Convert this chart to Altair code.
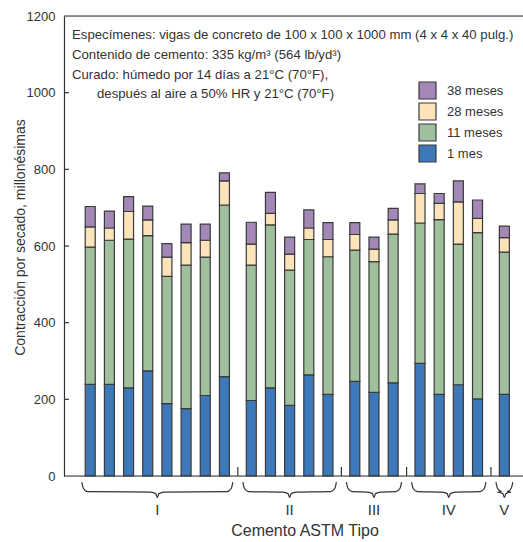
import altair as alt
import pandas as pd

# ---- data ----
groups = ["I", "II", "III", "IV", "V"]
bars_per_group = [8, 5, 3, 4, 1]
ages = ["38 meses", "28 meses", "11 meses", "1 mes"]
colors = ["#a388b7", "#fde3b9", "#a0c09d", "#3d78b8"]

m1 = [239, 239, 230, 274, 189, 176, 210, 259, 197, 230, 184, 264, 213, 247, 218, 243, 294, 213, 238, 201, 213]
m11 = [597, 615, 618, 627, 521, 550, 571, 707, 550, 655, 537, 617, 572, 589, 559, 631, 660, 669, 605, 635, 584]
m28 = [650, 647, 690, 668, 571, 609, 615, 770, 605, 685, 579, 647, 617, 630, 592, 668, 737, 711, 715, 672, 622]
m38 = [703, 691, 729, 704, 606, 657, 657, 791, 662, 740, 623, 694, 661, 661, 623, 698, 762, 737, 770, 720, 652]

y_ticks = [0, 200, 400, 600, 800, 1000, 1200]
notes = [
    "Especímenes: vigas de concreto de 100 x 100 x 1000 mm (4 x 4 x 40 pulg.)",
    "Contenido de cemento: 335 kg/m³ (564 lb/yd³)",
    "Curado: húmedo por 14 días a 21°C (70°F),",
    "después al aire a 50% HR y 21°C (70°F)",
]
y_title = "Contracción por secado, millonésimas"
x_title = "Cemento ASTM Tipo"

# ---- layout helpers ----
GAP = 0.4
INK = "#333333"
FONT = "Liberation Sans"
W, H = 459, 460
XMIN = -1.107
XMAX = XMIN + W / 19.6

pos, grp = [], []
k = 0
for g, (name, n) in enumerate(zip(groups, bars_per_group)):
    for j in range(n):
        pos.append(k + g * GAP)
        grp.append(name)
        k += 1

rows = []
for i in range(len(pos)):
    levels = [0, m1[i], m11[i], m28[i], m38[i]]
    for a, age in enumerate(["1 mes", "11 meses", "28 meses", "38 meses"]):
        rows.append({"pos": pos[i], "age": age, "lo": levels[a], "hi": levels[a + 1]})
seg = pd.DataFrame(rows)

gdf = []
for name in groups:
    p = [pp for pp, gg in zip(pos, grp) if gg == name]
    gdf.append({"name": name, "left": min(p) - 0.44, "right": max(p) + 0.44,
                "center": (min(p) + max(p)) / 2})
gdf = pd.DataFrame(gdf)

brace_rows = []
for _, r in gdf.iterrows():
    L, R, M = r["left"], r["right"], r["center"]
    pts = [(L, -16), (L + 0.08, -32), (L + 0.3, -41), (M - 0.35, -42), (M - 0.08, -46),
           (M, -56), (M + 0.08, -46), (M + 0.35, -42), (R - 0.3, -41), (R - 0.08, -32), (R, -16)]
    for kk, (bx, by) in enumerate(pts):
        brace_rows.append({"grp": r["name"], "k": kk, "bx": bx, "by": by})
braces = pd.DataFrame(brace_rows)

seps = pd.DataFrame({"s": [(gdf["right"][i] + gdf["left"][i + 1]) / 2 for i in range(len(gdf) - 1)]})

xs = alt.Scale(domain=[XMIN, XMAX], nice=False, zero=False)
ys = alt.Scale(domain=[0, 1200], nice=False)

bars = alt.Chart(seg).mark_bar(width=10, stroke="#3a3a3a", strokeWidth=1.2).encode(
    x=alt.X("pos:Q", scale=xs, axis=None),
    y=alt.Y("hi:Q", scale=ys, axis=alt.Axis(
        values=y_ticks, format="d", ticks=False, grid=False, labelPadding=9, labelFontSize=13,
        labelColor=INK, domainColor=INK, domainWidth=1.2, title=y_title, titleFontSize=14,
        titleFontWeight="normal", titleColor=INK, titleX=-37, titleY=221)),
    y2="lo:Q",
    color=alt.Color("age:N", scale=alt.Scale(domain=ages, range=colors), legend=alt.Legend(
        orient="none", legendX=354, legendY=65, title=None, symbolType="square",
        symbolSize=289, symbolStrokeColor="#3a3a3a", symbolStrokeWidth=1.2,
        symbolOpacity=1, labelFontSize=13, labelOffset=10, rowPadding=-2.5, labelColor=INK)),
)

inner_ticks = alt.Chart(pd.DataFrame({"v": y_ticks[1:-1]})).mark_rule(color=INK, strokeWidth=1.2).encode(
    y=alt.Y("v:Q", scale=ys), x=alt.value(0), x2=alt.value(5))
frame = alt.Chart(pd.DataFrame({"v": [0, 1200]})).mark_rule(color=INK, strokeWidth=1.2).encode(
    y=alt.Y("v:Q", scale=ys))
sep_ticks = alt.Chart(seps).mark_rule(color=INK, strokeWidth=1.2).encode(
    x=alt.X("s:Q", scale=xs, axis=None), y=alt.value(H), y2=alt.value(H - 9))
brace_lines = alt.Chart(braces).mark_line(color=INK, strokeWidth=1.2, interpolate="monotone").encode(
    x=alt.X("bx:Q", scale=xs, axis=None), y=alt.Y("by:Q", scale=ys),
    detail="grp:N", order="k:Q")
glabels = alt.Chart(gdf).mark_text(fontSize=15, color=INK, baseline="middle").encode(
    x=alt.X("center:Q", scale=xs, axis=None), y=alt.value(494), text="name:N")
xtitle = alt.Chart(pd.DataFrame({"t": [x_title]})).mark_text(
    fontSize=16, color=INK, baseline="middle").encode(
    x=alt.value(241), y=alt.value(515), text="t:N")

note_pos = [(8, 19), (8, 39), (8, 58.5), (33, 78)]
note_layers = []
for line, (nx, ny) in zip(notes, note_pos):
    note_layers.append(alt.Chart(pd.DataFrame({"t": [line]})).mark_text(
        fontSize=13.2, color=INK, align="left", baseline="middle").encode(
        x=alt.value(nx), y=alt.value(ny), text="t:N"))

chart = alt.layer(bars, inner_ticks, frame, sep_ticks, brace_lines, glabels, xtitle, *note_layers).properties(
    width=W, height=H,
    padding={"left": 64, "top": 16, "right": 0, "bottom": 66},
    autosize=alt.AutoSizeParams(type="none"),
).configure_view(stroke=None).configure(font=FONT)

chart.save("out.html", embed_options={"renderer": "svg", "actions": False})
